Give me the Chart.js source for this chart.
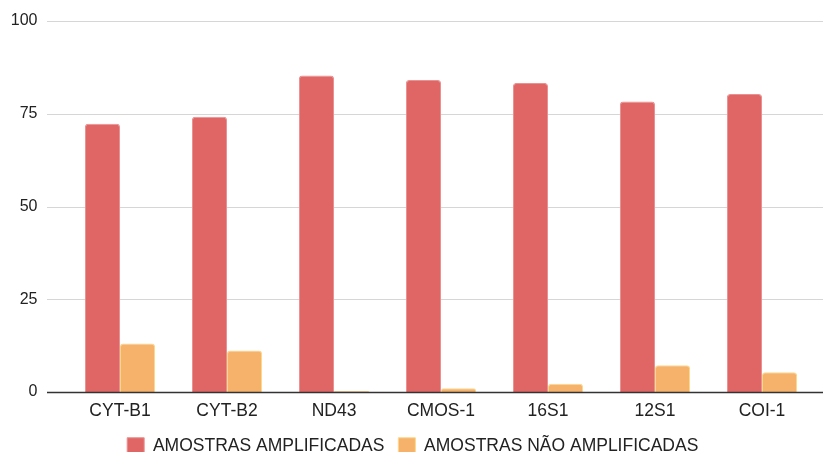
<!DOCTYPE html>
<html lang="pt">
  <head>
    <meta charset="UTF-8" />
    <title>Amostras amplificadas por marcador</title>
    <script src="https://cdn.jsdelivr.net/npm/chart.js@4.4.1/dist/chart.umd.min.js"></script>
    <style>
      html, body { margin: 0; padding: 0; background: #ffffff; height: 452px; overflow: hidden; }
      .chart-container { width: 823px; height: 465px; position: relative; }
    </style>
  </head>
  <body>
    <div class="chart-container">
      <canvas id="ampChart"></canvas>
    </div>
    <script>
      const markers = ["CYT-B1", "CYT-B2", "ND43", "CMOS-1", "16S1", "12S1", "COI-1"];
      const amplified = [72.3, 74.2, 85.3, 84.1, 83.3, 78.3, 80.3];
      const notAmplified = [13.1, 11.2, 0.3, 1.0, 2.2, 7.2, 5.3];
      const yTicks = [0, 25, 50, 75, 100];

      Chart.defaults.font.family = "'Liberation Sans', Arial, sans-serif";
      Chart.defaults.font.size = 17.5;
      Chart.defaults.color = "#222222";

      // grid lines in the reference run wider than the bar area, so draw them by hand
      const wideGrid = {
        id: "wideGrid",
        beforeDatasetsDraw(chart) {
          const { ctx, scales } = chart;
          ctx.save();
          ctx.strokeStyle = "#d6d6d6";
          ctx.lineWidth = 1;
          yTicks.forEach((v) => {
            if (v === 0) return;
            const y = Math.round(scales.y.getPixelForValue(v)) + 0.5;
            ctx.beginPath();
            ctx.moveTo(47, y);
            ctx.lineTo(chart.width, y);
            ctx.stroke();
          });
          ctx.restore();
        },
        afterDatasetsDraw(chart) {
          const { ctx, scales } = chart;
          const y = Math.round(scales.y.getPixelForValue(0)) + 0.5;
          ctx.save();
          ctx.strokeStyle = "#333333";
          ctx.lineWidth = 1.3;
          ctx.beginPath();
          ctx.moveTo(47, y);
          ctx.lineTo(chart.width, y);
          ctx.stroke();
          ctx.restore();
        },
      };

      const ctx = document.getElementById("ampChart").getContext("2d");
      new Chart(ctx, {
        type: "bar",
        data: {
          labels: markers,
          datasets: [
            {
              label: "AMOSTRAS AMPLIFICADAS",
              data: amplified,
              backgroundColor: "#e06666",
              borderColor: "#ea9090",
              borderWidth: 1,
              borderRadius: { topLeft: 3, topRight: 3 },
              borderSkipped: "bottom",
            },
            {
              label: "AMOSTRAS NÃO AMPLIFICADAS",
              data: notAmplified,
              backgroundColor: "#f6b26b",
              borderColor: "#fcd98a",
              borderWidth: 1,
              borderRadius: { topLeft: 3, topRight: 3 },
              borderSkipped: "bottom",
            },
          ],
        },
        options: {
          responsive: true,
          maintainAspectRatio: false,
          animation: false,
          datasets: {
            bar: { barPercentage: 1, categoryPercentage: 0.655 },
          },
          layout: { padding: { left: 10, right: 7.5, top: 21, bottom: 0 } },
          scales: {
            x: {
              grid: { display: false, drawTicks: false },
              border: { display: false },
              ticks: { padding: 9, color: "#222222" },
              afterFit(scale) {
                scale.height = 31.5;
              },
            },
            y: {
              min: 0,
              max: 100,
              afterBuildTicks(scale) {
                scale.ticks = yTicks.map((v) => ({ value: v }));
              },
              afterFit(scale) {
                scale.width = 56.5;
                scale.paddingTop = 0;
                scale.paddingBottom = 0;
              },
              grid: { display: false, drawTicks: false },
              border: { display: false },
              ticks: { padding: 29, color: "#222222", font: { size: 16 } },
            },
          },
          plugins: {
            legend: {
              position: "bottom",
              labels: {
                boxWidth: 17,
                boxHeight: 17,
                padding: 14,
                color: "#222222",
              },
            },
            tooltip: { enabled: false },
          },
        },
        plugins: [wideGrid],
      });
    </script>
  </body>
</html>
